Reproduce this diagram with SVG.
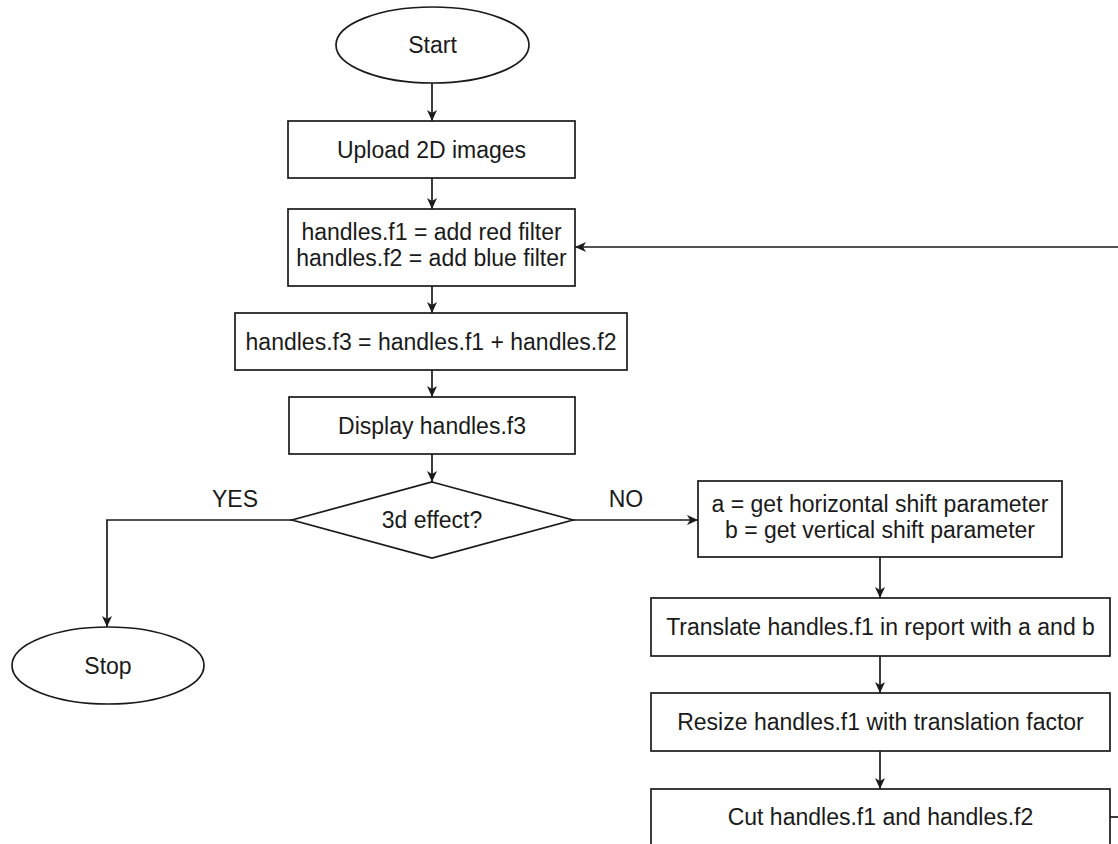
<svg xmlns="http://www.w3.org/2000/svg" width="1118" height="844" viewBox="0 0 1118 844">
<style>
.s{fill:#fff;stroke:#1a1a1a;stroke-width:1.7}
.e{fill:none;stroke:#1a1a1a;stroke-width:1.7}
text{font-family:"Liberation Sans",Arial,sans-serif;font-size:23px;fill:#1a1a1a;text-anchor:middle}
</style>
<defs>
<marker id="a" viewBox="0 0 11 11" refX="11" refY="5.5" markerWidth="11" markerHeight="11" markerUnits="userSpaceOnUse" orient="auto">
<path d="M0,0.5 L11,5.5 L0,10.5 L3,5.5 Z" fill="#1a1a1a"/>
</marker>
</defs>
<g id="connectors">
<path class="e" d="M432,83 V121" marker-end="url(#a)"/>
<path class="e" d="M432,178 V209" marker-end="url(#a)"/>
<path class="e" d="M432,286 V313" marker-end="url(#a)"/>
<path class="e" d="M432,370 V397" marker-end="url(#a)"/>
<path class="e" d="M432,454 V482" marker-end="url(#a)"/>
<path class="e" d="M292,520 H107 V627" marker-end="url(#a)"/>
<path class="e" d="M573,520 H698" marker-end="url(#a)"/>
<path class="e" d="M880,557 V598" marker-end="url(#a)"/>
<path class="e" d="M880,656 V693" marker-end="url(#a)"/>
<path class="e" d="M880,751 V789" marker-end="url(#a)"/>
<path class="e" d="M1118,247 H575" marker-end="url(#a)"/>
<path class="e" d="M1110,817 H1118"/>
<text x="235" y="507">YES</text>
<text x="626" y="507">NO</text>
</g>
<g id="start"><ellipse class="s" cx="432.5" cy="45" rx="96.5" ry="38"/><text x="432.5" y="53">Start</text></g>
<g id="upload"><rect class="s" x="288" y="121" width="287" height="57"/><text x="431.5" y="158">Upload 2D images</text></g>
<g id="filters"><rect class="s" x="288" y="209" width="287" height="77"/><text x="431.5" y="240">handles.f1 = add red filter</text><text x="431.5" y="266">handles.f2 = add blue filter</text></g>
<g id="sum"><rect class="s" x="235" y="313" width="392" height="57"/><text x="431" y="350">handles.f3 = handles.f1 + handles.f2</text></g>
<g id="display"><rect class="s" x="289" y="397" width="286" height="57"/><text x="432" y="434">Display handles.f3</text></g>
<g id="decision"><path class="s" d="M432,482 L573,520 L432,558 L292,520 Z"/><text x="432" y="528">3d effect?</text></g>
<g id="stop"><ellipse class="s" cx="108" cy="665.5" rx="96" ry="38.5"/><text x="108" y="674">Stop</text></g>
<g id="shift"><rect class="s" x="698" y="481" width="364" height="76"/><text x="880" y="512">a = get horizontal shift parameter</text><text x="880" y="538">b = get vertical shift parameter</text></g>
<g id="translate"><rect class="s" x="651" y="598" width="459" height="58"/><text x="880.5" y="635">Translate handles.f1 in report with a and b</text></g>
<g id="resize"><rect class="s" x="651" y="693" width="459" height="58"/><text x="880.5" y="730">Resize handles.f1 with translation factor</text></g>
<g id="cut"><rect class="s" x="651" y="789" width="459" height="58"/><text x="880.5" y="825">Cut handles.f1 and handles.f2</text></g>
</svg>
